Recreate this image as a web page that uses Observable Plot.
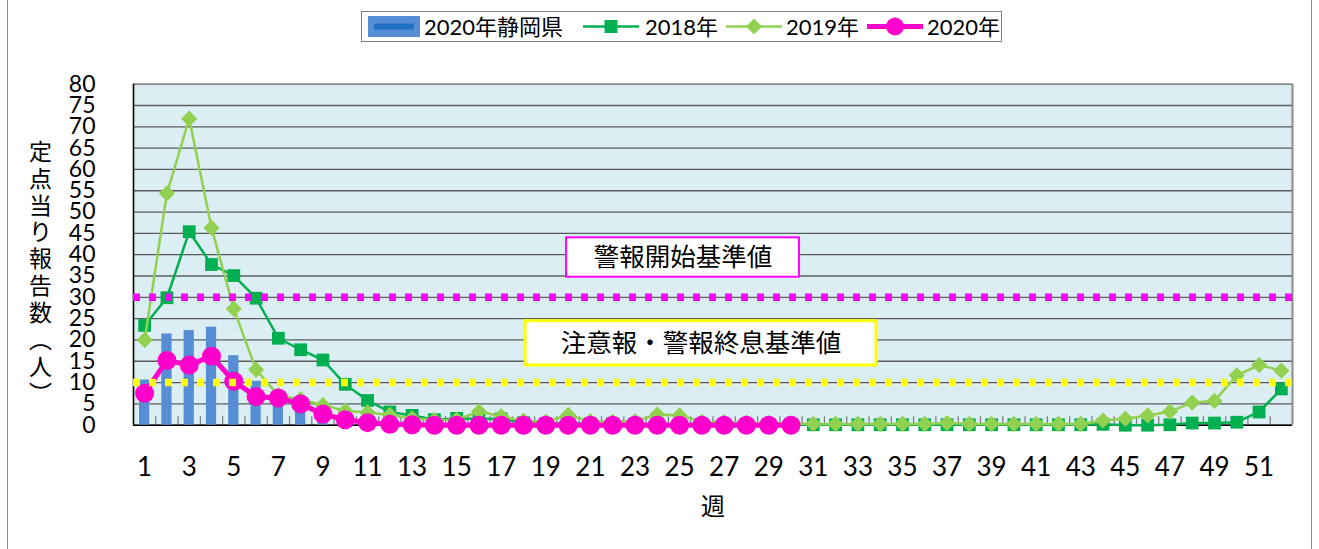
<!DOCTYPE html>
<html><head><meta charset="utf-8">
<script src="https://cdn.jsdelivr.net/npm/d3@7"></script>
<script src="https://cdn.jsdelivr.net/npm/@observablehq/plot@0.6"></script>
<style>
body{margin:0;width:1319px;height:549px;overflow:hidden;background:#fff;font-family:Lato,"Noto Sans CJK JP",sans-serif;position:relative}
#frame{position:absolute;left:7px;top:-3px;width:1303px;height:560px;border:1px solid #8c8c8c;pointer-events:none}
#legend{position:absolute;left:361px;top:11px;width:639px;height:29px;border:1px solid #7f7f7f;background:#fff}
.li{position:absolute;top:0;height:29px;display:flex;align-items:center;font-size:22px;color:#000;white-space:nowrap;line-height:29px}
.sw{position:absolute;top:0;height:29px}
#chart{position:absolute;left:0;top:55px}
</style></head><body>
<div id="frame"></div>
<div id="legend"></div>
<div id="chart"></div>
<script>
// ---- data ----
const weeks = d3.range(1, 53);
const seriesNames = ["2020年静岡県", "2018年", "2019年", "2020年"];
const pref2020 = [10.6, 21.4, 22.2, 23.0, 16.3, 10.3, 7.3, 4.8, 2.8, 1.2, 0.5, 0.2];
const y2018 = [23.4, 29.9, 45.4, 37.7, 35.1, 29.8, 20.4, 17.7, 15.3, 9.6,
  5.8, 3.1, 2.3, 1.3, 1.6, 1.5, 1.5, 0.6, 0.4, 0.4,
  0.3, 0.3, 0.3, 0.3, 0.2, 0.2, 0.2, 0.2, 0.1, 0.1,
  0.1, 0.1, 0.1, 0.1, 0.1, 0.1, 0.1, 0.1, 0.1, 0.1,
  0.1, 0.1, 0.1, 0.2, 0, 0, 0.1, 0.5, 0.5, 0.7,
  3.1, 8.5];
const y2019 = [20.0, 54.4, 71.9, 46.3, 27.3, 13.0, 7.0, 6.1, 4.7, 3.4,
  3.0, 2.4, 1.6, 1.2, 1.3, 3.2, 2.1, 1.0, 0.8, 2.4,
  0.9, 0.8, 0.9, 2.5, 2.3, 0.8, 0.7, 0.6, 0.5, 0.4,
  0.3, 0.3, 0.3, 0.3, 0.3, 0.3, 0.5, 0.3, 0.3, 0.3,
  0.3, 0.3, 0.3, 1.1, 1.5, 2.3, 3.2, 5.3, 5.7, 11.7,
  14.1, 12.8];
const y2020 = [7.5, 15.2, 14.1, 16.2, 10.3, 6.7, 6.4, 5.0, 2.6, 1.3,
  0.6, 0.2, 0.1, 0, 0, 0, 0, 0, 0, 0,
  0, 0, 0, 0, 0, 0, 0, 0, 0, 0];
const alertStart = 30;
const alertEnd = 10;
const alertStartLabel = "警報開始基準値";
const alertEndLabel = "注意報・警報終息基準値";
const yTicks = d3.range(0, 81, 5);
const xTickLabels = d3.range(1, 52, 2);
const yLabel = "定点当り報告数（人）";
const xLabel = "週";

// ---- styles ----
const C = {pref:"#558ED5", prefDark:"#1F6FC5", s18:"#00B050", s19:"#92D050", s20:"#FF00CC", mag:"#FF00FF", yel:"#FFFF00"};
const rows = vals => vals.map((v, i) => ({week: weeks[i], value: v}));
const rPref = rows(pref2020), r18 = rows(y2018), r19 = rows(y2019), r20 = rows(y2020);
const bounds = weeks.slice(0, 51).map(w => w + 0.5);
const vLabel = yLabel.replace("（", "︵").replace("）", "︶").split("").join("\n");
const FONT = "Lato, 'Noto Sans CJK JP', sans-serif";
const JP = "'Noto Sans CJK JP', sans-serif";

const plot = Plot.plot({
  width: 1319, height: 494,
  marginLeft: 133, marginRight: 27, marginTop: 28.7, marginBottom: 124.3,
  style: {fontFamily: FONT, background: "transparent", overflow: "visible", color: "#000"},
  x: {type: "linear", domain: [0.5, 52.5]},
  y: {domain: [0, 80]},
  marks: [
    Plot.frame({fill: "#DBEEF4", stroke: null}),
    Plot.ruleY(yTicks, {stroke: "#5c5c5c", strokeWidth: 1.3}),
    Plot.ruleX(bounds, {y1: 0, y2: 2, stroke: "#7a7a7a", strokeWidth: 1.2}),
    Plot.ruleX([52.5], {stroke: "#8c8c8c", strokeWidth: 2}),
    Plot.ruleX([0.5], {stroke: "#000", strokeWidth: 1.6}),
    Plot.ruleY([0], {stroke: "#000", strokeWidth: 1.6}),
    Plot.rect(rPref, {x1: d => d.week - 0.23, x2: d => d.week + 0.23, y1: 0, y2: "value", fill: C.pref}),
    Plot.line(r18, {x: "week", y: "value", stroke: C.s18, strokeWidth: 2.5}),
    Plot.dot(r18, {x: "week", y: "value", symbol: "square", r: 7.2, fill: C.s18, stroke: null}),
    Plot.line(r19, {x: "week", y: "value", stroke: C.s19, strokeWidth: 2.5}),
    Plot.dot(r19, {x: "week", y: "value", symbol: "diamond2", r: 7.3, fill: C.s19, stroke: null}),
    Plot.line(r20, {x: "week", y: "value", stroke: C.s20, strokeWidth: 5}),
    Plot.dot(r20, {x: "week", y: "value", r: 9.5, fill: C.s20, stroke: null}),
    Plot.ruleY([alertStart], {stroke: C.mag, strokeWidth: 7.5, strokeDasharray: "7,9"}),
    Plot.ruleY([alertEnd], {stroke: C.yel, strokeWidth: 7.5, strokeDasharray: "7,9"}),
    Plot.rect([alertStartLabel], {x1: 19.93, x2: 30.38, y1: 34.72, y2: 43.96, fill: "#fff", stroke: C.mag, strokeWidth: 2}),
    Plot.text([alertStartLabel], {x: 25.15, y: 39.3, text: d => d, fontSize: 25.5, fontFamily: JP, fill: "#000"}),
    Plot.rect([alertEndLabel], {x1: 18.09, x2: 33.84, y1: 14.0, y2: 24.4, fill: "#fff", stroke: C.yel, strokeWidth: 3}),
    Plot.text([alertEndLabel], {x: 25.96, y: 19.2, text: d => d, fontSize: 25.5, fontFamily: JP, fill: "#000"}),
    Plot.axisY({ticks: yTicks, tickSize: 0, tickPadding: 38, fontSize: 23, label: null}),
    Plot.axisX({ticks: xTickLabels, tickSize: 0, tickPadding: 32, fontSize: 26, label: null}),
    Plot.text([vLabel], {frameAnchor: "left", dx: -93, y: () => 35.9, text: d => d, textAnchor: "middle", lineAnchor: "middle", fontSize: 23, lineHeight: 1.17, fontFamily: JP}),
    Plot.text([xLabel], {frameAnchor: "bottom", dy: 82.3, text: d => d, lineAnchor: "middle", fontSize: 24, fontFamily: JP})
  ]
});
document.getElementById("chart").appendChild(plot);

// ---- legend ----
const lg = d3.select("#legend");
function sw(left, w, draw) {
  const s = lg.append("svg").attr("class", "sw").style("left", left + "px").attr("width", w).attr("height", 29);
  draw(s, w);
}
function txt(left, t) { lg.append("span").attr("class", "li").style("left", left + "px").text(t); }
sw(6, 52, (s, w) => {
  s.append("rect").attr("x", 0).attr("y", 4).attr("width", w).attr("height", 21).attr("fill", C.pref);
  s.append("rect").attr("x", 6).attr("y", 11.5).attr("width", w - 12).attr("height", 6).attr("fill", C.prefDark);
});
txt(62, seriesNames[0]);
sw(219, 60, (s, w) => {
  s.append("line").attr("x1", 2).attr("x2", w - 2).attr("y1", 14.5).attr("y2", 14.5).attr("stroke", C.s18).attr("stroke-width", 2.5);
  s.append("rect").attr("x", w / 2 - 6.5).attr("y", 8).attr("width", 13).attr("height", 13).attr("fill", C.s18);
});
txt(283, seriesNames[1]);
sw(362, 60, (s, w) => {
  s.append("line").attr("x1", 2).attr("x2", w - 2).attr("y1", 14.5).attr("y2", 14.5).attr("stroke", C.s19).attr("stroke-width", 2.5);
  s.append("path").attr("d", `M${w/2},6.5L${w/2+8},14.5L${w/2},22.5L${w/2-8},14.5Z`).attr("fill", C.s19);
});
txt(424, seriesNames[2]);
sw(503, 60, (s, w) => {
  s.append("line").attr("x1", 2).attr("x2", w - 2).attr("y1", 14.5).attr("y2", 14.5).attr("stroke", C.s20).attr("stroke-width", 5);
  s.append("circle").attr("cx", w / 2).attr("cy", 14.5).attr("r", 9).attr("fill", C.s20);
});
txt(565, seriesNames[3]);
</script>
</body></html>
